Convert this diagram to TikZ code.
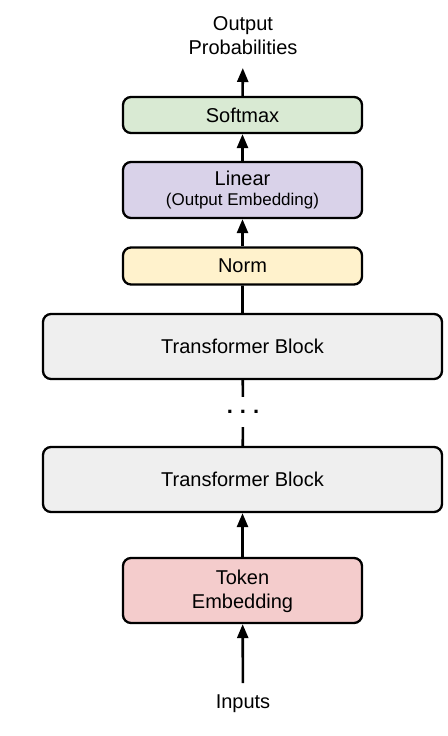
\documentclass[tikz,border=0pt]{standalone}
\usepackage{fontspec}
\setmainfont{Liberation Sans}
\usetikzlibrary{arrows.meta}

\definecolor{softgreen}{HTML}{D9EAD3}
\definecolor{linpurple}{HTML}{D9D2E9}
\definecolor{normyellow}{HTML}{FFF2CC}
\definecolor{blockgray}{HTML}{EFEFEF}
\definecolor{tokred}{HTML}{F4CCCC}

\begin{document}
\begin{tikzpicture}[x=1pt,y=-1pt,
  txt/.style={font=\fontsize{20}{24}\selectfont},
  blk/.style={txt,draw,rounded corners=8pt,line width=2.3pt,minimum width=239pt,align=center},
  wideblk/.style={blk,minimum width=399pt,minimum height=65pt,fill=blockgray},
  link/.style={line width=2.6pt},
  arr/.style={link,-{Triangle[length=14pt,width=11pt]}}]

\useasboundingbox (0,0) rectangle (447,736);

\node (out) at (243,68) [txt,anchor=south,align=center,inner ysep=13pt,text depth=0pt] {Output\\Probabilities};

\node (soft) at (242.5,115) [blk,fill=softgreen,minimum height=36pt] {Softmax};
\node (lin) at (242.5,190) [blk,fill=linpurple,minimum height=56pt] {Linear\\[-4pt]{\fontsize{17}{20}\selectfont (Output Embedding)}};
\node (norm) at (242.5,266) [blk,fill=normyellow,minimum height=37pt] {Norm};

\node (tb1) at (242.5,346.5) [wideblk] {Transformer Block};
\node (dots) at (243,412) [font=\fontsize{22}{26}\selectfont\bfseries,minimum height=30pt,inner sep=0pt] {.\hspace{7pt}.\hspace{7pt}.};
\node (tb2) at (242.5,479.5) [wideblk] {Transformer Block};

\node (tok) at (242.5,590.5) [blk,fill=tokred,minimum height=65pt,text depth=3pt] {Token\\Embedding};
\node (inp) at (243,683) [txt,anchor=north,inner ysep=11pt,text height=14pt] {Inputs};

\draw [arr] (inp) -- (tok);
\draw [arr] (tok) -- (tb2);
\draw [link] (tb2) -- (dots) (dots) -- (tb1) (tb1) -- (norm);
\draw [arr] (norm) -- (lin);
\draw [arr] (lin) -- (soft);
\draw [arr] (soft) -- (out);

\end{tikzpicture}
\end{document}
